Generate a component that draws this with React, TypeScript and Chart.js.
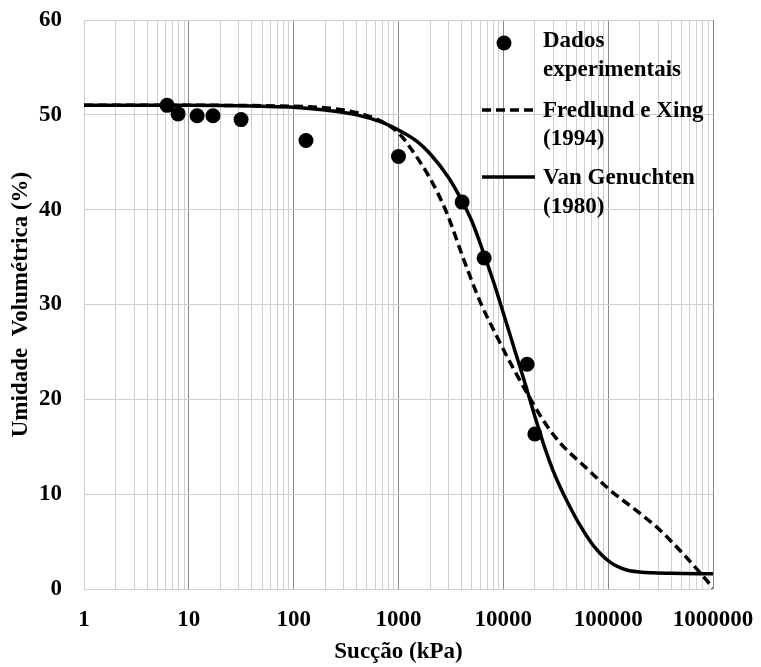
import React, { useEffect, useRef } from 'react';
import { Chart, registerables } from 'chart.js';

Chart.register(...registerables);

// Experimental data (suction kPa, volumetric water content %)
const pointX = [6.2, 7.9, 12, 17, 31.5, 131, 1000, 4045, 6560, 16870, 20000];
const pointY = [51.0, 50.1, 49.9, 49.9, 49.5, 47.3, 45.6, 40.8, 34.9, 23.7, 16.35];

// Fredlund e Xing (1994) curve
const fxX = [1, 10, 100, 300, 600, 1000, 1380, 2000, 2900, 4140, 6000, 8700, 12400, 18000, 25000, 34800, 60000, 105000, 200000, 313000, 500000, 755000, 1000000];
const fxY = [51.0, 51.0, 50.9, 50.5, 49.6, 48.1, 46.1, 43.3, 39.6, 34.9, 30.3, 26.6, 23.3, 20.1, 17.5, 15.4, 12.9, 10.4, 8.0, 6.2, 3.9, 1.7, 0.1];

// Van Genuchten (1980) curve
const vgX = [1, 10, 50, 100, 200, 400, 700, 1000, 1500, 2000, 3000, 4000, 5000, 6500, 8000, 10000, 13000, 16000, 20000, 25000, 30000, 35000, 43000, 54000, 72000, 105000, 150000, 200000, 400000, 1000000];
const vgY = [51.0, 51.0, 50.9, 50.8, 50.5, 50.0, 49.2, 48.4, 47.2, 45.9, 43.4, 41.0, 38.8, 35.4, 32.5, 29.1, 25.0, 21.8, 18.2, 14.8, 12.4, 10.7, 8.7, 6.7, 4.6, 2.8, 2.0, 1.8, 1.65, 1.6];

const xDecades = [1, 10, 100, 1000, 10000, 100000, 1000000];
const yTickValues = [0, 10, 20, 30, 40, 50, 60];

const legendLabels = [
  ['Dados', 'experimentais'],
  ['Fredlund e Xing', '(1994)'],
  ['Van Genuchten', '(1980)'],
];

const xTitle = 'Sucção (kPa)';
const yTitle = 'Umidade  Volumétrica (%)';

const FONT = "'Liberation Serif', 'Times New Roman', serif";
const FS = 23;

const legendPlugin = {
  id: 'customLegend',
  afterDatasetsDraw(chart: any) {
    const ctx = chart.ctx;
    ctx.save();
    ctx.fillStyle = '#000';
    ctx.strokeStyle = '#000';
    ctx.beginPath();
    ctx.arc(504, 43, 7.5, 0, Math.PI * 2);
    ctx.fill();
    ctx.lineWidth = 3.5;
    ctx.setLineDash([9, 5]);
    ctx.beginPath();
    ctx.moveTo(482, 110);
    ctx.lineTo(535, 110);
    ctx.stroke();
    ctx.setLineDash([]);
    ctx.beginPath();
    ctx.moveTo(482, 177);
    ctx.lineTo(535, 177);
    ctx.stroke();
    ctx.font = `bold ${FS}px ${FONT}`;
    ctx.textBaseline = 'middle';
    ctx.textAlign = 'left';
    const ys = [[41, 70], [111, 139], [178, 207]];
    legendLabels.forEach((lines, i) => {
      lines.forEach((t, j) => ctx.fillText(t, 543, ys[i][j]));
    });
    ctx.restore();
  },
};

export default function App() {
  const ref = useRef<HTMLCanvasElement | null>(null);

  useEffect(() => {
    if (!ref.current) return;
    const tickFont = { family: FONT, size: FS, weight: 'bold' as const };
    const chart = new Chart(ref.current, {
      type: 'scatter',
      data: {
        datasets: [
          {
            label: 'Dados experimentais',
            data: pointX.map((x, i) => ({ x, y: pointY[i] })),
            pointRadius: 7.5,
            pointBackgroundColor: '#000',
            pointBorderWidth: 0,
            showLine: false,
            order: 0,
          },
          {
            label: 'Fredlund e Xing (1994)',
            data: fxX.map((x, i) => ({ x, y: fxY[i] })),
            showLine: true,
            borderColor: '#000',
            borderWidth: 3.5,
            borderDash: [9, 5],
            pointRadius: 0,
            cubicInterpolationMode: 'monotone',
            order: 1,
          },
          {
            label: 'Van Genuchten (1980)',
            data: vgX.map((x, i) => ({ x, y: vgY[i] })),
            showLine: true,
            borderColor: '#000',
            borderWidth: 3.5,
            pointRadius: 0,
            cubicInterpolationMode: 'monotone',
            order: 2,
          },
        ],
      },
      options: {
        responsive: false,
        animation: false,
        devicePixelRatio: 1,
        layout: { padding: { top: 20, right: 48, bottom: 0, left: 0 } },
        plugins: { legend: { display: false }, tooltip: { enabled: false } },
        scales: {
          x: {
            type: 'logarithmic',
            min: 1,
            max: 1000000,
            afterBuildTicks: (scale: any) => {
              const t: any[] = [];
              for (let d = 0; d < xDecades.length - 1; d++) {
                for (let m = 1; m <= 9; m++) t.push({ value: m * xDecades[d] });
              }
              t.push({ value: xDecades[xDecades.length - 1] });
              scale.ticks = t;
            },
            afterFit: (scale: any) => {
              scale.height = 78;
              scale.paddingLeft = 0;
              scale.paddingRight = 0;
            },
            ticks: {
              autoSkip: false,
              maxRotation: 0,
              minRotation: 0,
              padding: 17,
              color: '#000',
              font: tickFont,
              callback: (v: any) => (xDecades.includes(Number(v)) ? String(v) : ''),
            },
            grid: {
              drawTicks: false,
              lineWidth: 1,
              color: (c: any) => {
                const v = c.tick ? c.tick.value : 0;
                return xDecades.includes(v) && v !== 1 ? '#8a8a8a' : '#cfcfcf';
              },
            },
            border: { color: '#cfcfcf', width: 1 },
            title: {
              display: true,
              text: xTitle,
              color: '#000',
              font: tickFont,
              padding: { top: 0, bottom: 1 },
            },
          },
          y: {
            min: 0,
            max: 60,
            afterBuildTicks: (scale: any) => {
              scale.ticks = yTickValues.map((v) => ({ value: v }));
            },
            afterFit: (scale: any) => {
              scale.width = 84;
              scale.paddingTop = 0;
              scale.paddingBottom = 0;
            },
            ticks: {
              padding: 22,
              color: '#000',
              font: tickFont,
            },
            grid: { drawTicks: false, color: '#cfcfcf', lineWidth: 1 },
            border: { color: '#cfcfcf', width: 1 },
            title: {
              display: true,
              text: yTitle,
              color: '#000',
              font: tickFont,
              padding: { top: 7, bottom: 0 },
            },
          },
        },
      },
      plugins: [legendPlugin],
    } as any);
    return () => chart.destroy();
  }, []);

  return (
    <div style={{ position: 'absolute', left: 0, top: 0, width: 761, height: 667 }}>
      <canvas ref={ref} width={761} height={667} style={{ width: 761, height: 667 }} />
    </div>
  );
}
